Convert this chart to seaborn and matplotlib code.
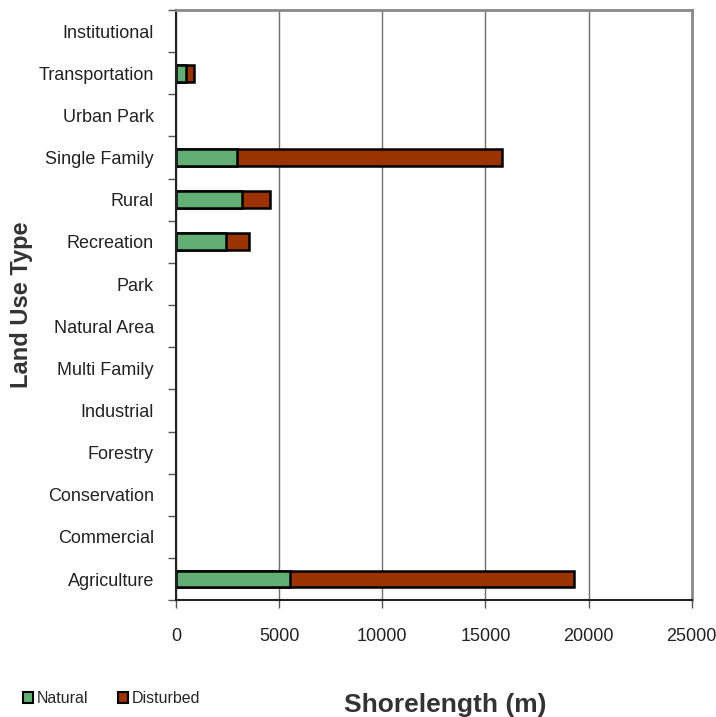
import matplotlib.pyplot as plt
import seaborn as sns
import numpy as np
import pandas as pd
from matplotlib.patches import Patch
from matplotlib.ticker import FixedLocator

# 토지이용 유형 (위에서 아래 순서)
land_use = ['Institutional', 'Transportation', 'Urban Park', 'Single Family', 'Rural',
            'Recreation', 'Park', 'Natural Area', 'Multi Family', 'Industrial',
            'Forestry', 'Conservation', 'Commercial', 'Agriculture']
natural = [0, 490, 0, 2960, 3210, 2430, 0, 0, 0, 0, 0, 0, 0, 5510]
disturbed = [0, 365, 0, 12860, 1340, 1100, 0, 0, 0, 0, 0, 0, 0, 13800]
x_ticks = [0, 5000, 10000, 15000, 20000, 25000]

green = '#62AE75'
brown = '#993300'

df = pd.DataFrame({'land_use': land_use, 'Natural': natural, 'Disturbed': disturbed})
df['Total'] = df['Natural'] + df['Disturbed']

sns.set_style('white')
plt.rcParams['font.family'] = ['Liberation Sans', 'DejaVu Sans']

fig = plt.figure(figsize=(7.16, 7.17), dpi=100)
ax = fig.add_axes([0.246, 0.163, 0.720, 0.823])

# 누적 막대: 전체 길이를 먼저 그리고 자연 구간을 위에 덮음
sns.barplot(data=df, y='land_use', x='Total', color=brown, orient='h', width=0.4,
            edgecolor='black', linewidth=1.8, saturation=1, ax=ax)
sns.barplot(data=df, y='land_use', x='Natural', color=green, orient='h', width=0.4,
            edgecolor='black', linewidth=1.8, saturation=1, ax=ax)

# 값이 0인 막대는 테두리 제거
for p in ax.patches:
    if p.get_width() == 0:
        p.set_visible(False)

ax.set_xlim(0, 25000)
ax.set_ylim(len(land_use) - 0.5, -0.5)
ax.set_xticks(x_ticks)
ax.set_xticklabels([str(t) for t in x_ticks], fontsize=13, color='#222222')
ax.tick_params(axis='x', direction='out', length=6, width=1, color='#555555', pad=14, bottom=True)
ax.xaxis.grid(True, color='#6f6f6f', linewidth=1)
ax.set_axisbelow(True)

ax.tick_params(axis='y', length=0, pad=16, labelsize=13, labelcolor='#222222')
ax.yaxis.set_minor_locator(FixedLocator(np.arange(-0.5, len(land_use), 1)))
ax.tick_params(axis='y', which='minor', direction='out', length=6, width=1, color='#555555', left=True)

for side in ['top', 'right']:
    ax.spines[side].set_color('#8a8a8a')
    ax.spines[side].set_linewidth(2)
for side in ['left', 'bottom']:
    ax.spines[side].set_color('#222222')
    ax.spines[side].set_linewidth(1.5)

ax.set_ylabel('Land Use Type', fontsize=17, fontweight='bold', color='#333333', labelpad=4)
ax.set_xlabel('')
fig.text(0.622, 0.0, 'Shorelength (m)', fontsize=19, fontweight='bold', color='#333333',
         ha='center', va='bottom')

handles = [Patch(facecolor=green, edgecolor='black', linewidth=1.5, label='Natural'),
           Patch(facecolor=brown, edgecolor='black', linewidth=1.5, label='Disturbed')]
fig.legend(handles=handles, loc='lower left', bbox_to_anchor=(0.012, -0.005), ncol=2,
           frameon=False, fontsize=11.5, handlelength=0.6, handleheight=0.75,
           handletextpad=0.25, columnspacing=1.9)

plt.savefig('out.png', dpi=100)
plt.close()
